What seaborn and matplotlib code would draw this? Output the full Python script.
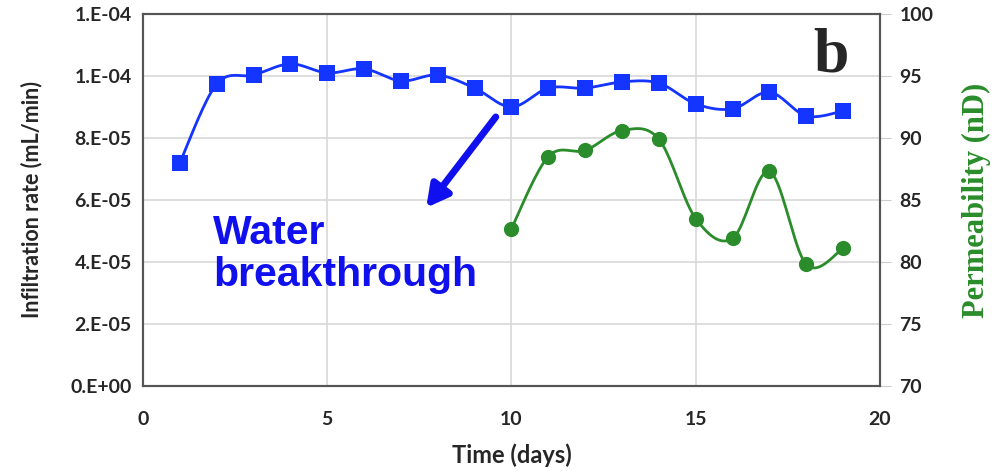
import numpy as np
import pandas as pd
import matplotlib
matplotlib.use("Agg")
import matplotlib.pyplot as plt
import seaborn as sns

# data
days_rate = [1, 2, 3, 4, 5, 6, 7, 8, 9, 10, 11, 12, 13, 14, 15, 16, 17, 18, 19]
infiltration = [7.2e-5, 9.74e-5, 1.003e-4, 1.039e-4, 1.01e-4, 1.023e-4, 9.84e-5, 1.003e-4,
                9.61e-5, 9.0e-5, 9.61e-5, 9.61e-5, 9.81e-5, 9.77e-5, 9.1e-5, 8.94e-5,
                9.48e-5, 8.71e-5, 8.87e-5]
days_perm = [10, 11, 12, 13, 14, 15, 16, 17, 18, 19]
permeability = [82.7, 88.5, 89.0, 90.6, 89.9, 83.5, 81.9, 87.3, 79.8, 81.1]
left_ticks = [0, 2e-5, 4e-5, 6e-5, 8e-5, 1e-4, 1.2e-4]
left_labels = ["0.E+00", "2.E-05", "4.E-05", "6.E-05", "8.E-05", "1.E-04", "1.E-04"]
right_ticks = [70, 75, 80, 85, 90, 95, 100]
x_ticks = [0, 5, 10, 15, 20]

BLUE = "#1434ff"
GREEN = "#2a8c2a"


def smooth(x, y, n=20):
    # Excel-style smoothed line (Bezier through the points)
    x = np.asarray(x, float)
    y = np.asarray(y, float)
    xs, ys = [], []
    for i in range(len(x) - 1):
        p0 = (x[max(i - 1, 0)], y[max(i - 1, 0)])
        p1 = (x[i], y[i])
        p2 = (x[i + 1], y[i + 1])
        p3 = (x[min(i + 2, len(x) - 1)], y[min(i + 2, len(x) - 1)])
        c1 = (p1[0] + (p2[0] - p0[0]) / 6, p1[1] + (p2[1] - p0[1]) / 6)
        c2 = (p2[0] - (p3[0] - p1[0]) / 6, p2[1] - (p3[1] - p1[1]) / 6)
        t = np.linspace(0, 1, n, endpoint=(i == len(x) - 2))
        for k in range(2):
            pts = [p1[k], c1[k], c2[k], p2[k]]
            val = ((1 - t) ** 3 * pts[0] + 3 * (1 - t) ** 2 * t * pts[1]
                   + 3 * (1 - t) * t ** 2 * pts[2] + t ** 3 * pts[3])
            (xs if k == 0 else ys).append(val)
    return np.concatenate(xs), np.concatenate(ys)


sns.set_style("white")
plt.rcParams["font.family"] = ["Lato", "DejaVu Sans"]

fig = plt.figure(figsize=(9.95, 4.71), dpi=100)
ax = fig.add_axes([0.1437, 0.1805, 0.7407, 0.7898])
ax2 = ax.twinx()

rate_df = pd.DataFrame({"day": days_rate, "rate": infiltration})
perm_df = pd.DataFrame({"day": days_perm, "perm": permeability})

sx, sy = smooth(days_rate, infiltration)
ax.plot(sx, sy, color=BLUE, lw=2, zorder=3)
sns.scatterplot(data=rate_df, x="day", y="rate", ax=ax, marker="s", s=120,
                color=BLUE, edgecolor=BLUE, linewidth=0, zorder=4)

gx, gy = smooth(days_perm, permeability)
ax2.plot(gx, gy, color=GREEN, lw=2, zorder=3)
sns.scatterplot(data=perm_df, x="day", y="perm", ax=ax2, marker="o", s=120,
                color=GREEN, edgecolor=GREEN, linewidth=0, zorder=4)

ax.set_xlim(0, 20)
ax.set_ylim(0, 1.2e-4)
ax2.set_ylim(70, 100)
ax.set_xticks(x_ticks)
ax.set_yticks(left_ticks)
ax.set_yticklabels(left_labels)
ax2.set_yticks(right_ticks)

ax.grid(True, color="#d8d8d8", lw=1.2)
ax.set_axisbelow(True)
for a in (ax, ax2):
    for s in a.spines.values():
        s.set_color("#555555")
        s.set_linewidth(1.5)

ax.tick_params(axis="y", length=0, labelsize=14, pad=8)
ax.tick_params(axis="x", length=0, labelsize=14, pad=18)
ax2.tick_params(axis="y", length=8, color="#cccccc", labelsize=14, pad=6)
for lab in ax.get_xticklabels() + ax.get_yticklabels() + ax2.get_yticklabels():
    lab.set_fontweight("bold")

ax.set_xlabel("Time (days)", fontsize=17, fontweight="bold")
ax.set_ylabel("Infiltration rate (mL/min)", fontsize=15.5, fontweight="bold")
ax2.set_ylabel("Permeability (nD)", fontsize=22, fontweight="bold", color=GREEN,
               family="Liberation Serif")
ax.xaxis.set_label_coords(0.5, -0.155)
ax.yaxis.set_label_coords(-0.137, 0.5)
ax2.yaxis.set_label_coords(1.111, 0.5)

ax.annotate("", xy=(7.64, 5.68e-5), xytext=(9.62, 8.75e-5),
            arrowprops=dict(arrowstyle="-|>,head_width=0.7,head_length=1.3",
                            color="#1010ee", lw=5), zorder=5)
ax.text(1.9, 5.55e-5, "Water\nbreakthrough", color="#1010ee", fontsize=29.5,
        fontweight="bold", family="Liberation Sans", va="top", ha="left",
        linespacing=1.12)
ax.text(19.15, 1.155e-4, "b", fontsize=46, fontweight="bold", family="Liberation Serif",
        ha="right", va="top")

fig.savefig("out.png", dpi=100)
